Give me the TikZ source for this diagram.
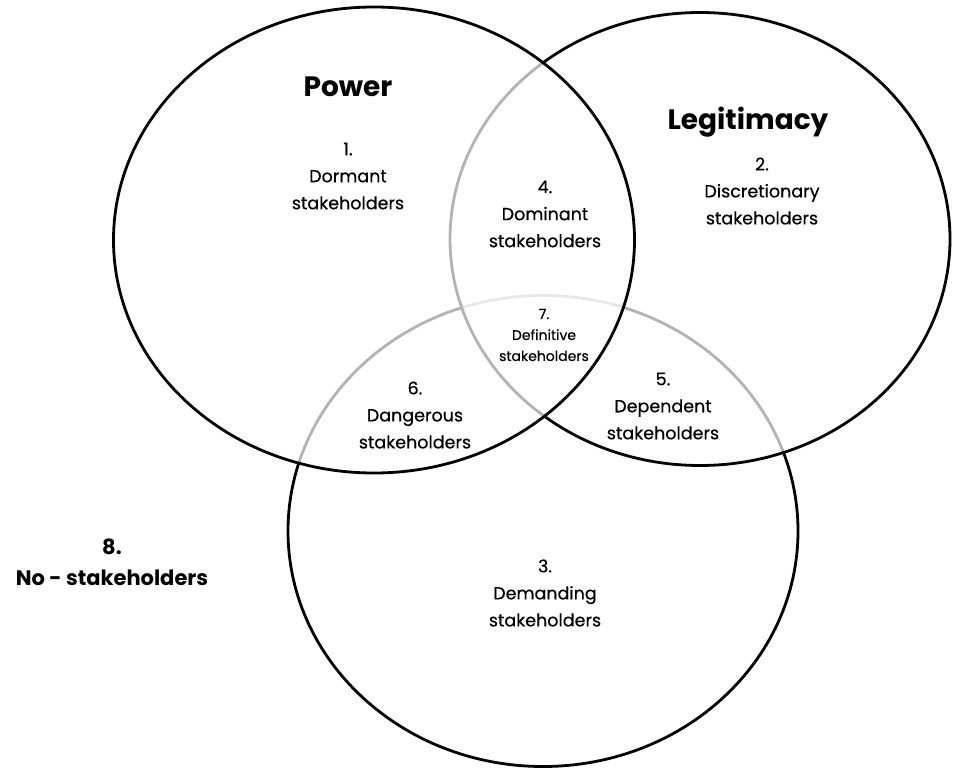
\documentclass[tikz,border=0pt]{standalone}
\usepackage{fontspec}
\setmainfont{Poppins}
\newfontfamily\medfont[FakeBold=0.4]{Poppins}
\usepackage{tikz}
\usetikzlibrary{shapes.geometric,positioning}
\tikzset{
  attrset/.style  = {ellipse, draw=black, line width=2.8pt, fill=white,
                     fill opacity=0.7, inner sep=0pt},
  attrlab/.style  = {font=\fontsize{28}{32}\selectfont\bfseries, inner sep=0pt},
  classlab/.style = {font=\fontsize{17.5}{27}\medfont, align=center, inner sep=0pt},
  deflab/.style   = {font=\fontsize{14}{21}\medfont, align=center, inner sep=0pt},
  nolab/.style    = {font=\fontsize{21}{31}\selectfont\bfseries, align=center, inner sep=0pt},
}
\begin{document}
\begin{tikzpicture}[x=1pt, y=-1pt]
\useasboundingbox (0,0) rectangle (953,770);
% the three attributes
\node[attrset, minimum width=510pt, minimum height=471pt] (urg) at (543,531) {};
\node[attrset, minimum width=500pt, minimum height=453pt] (leg) at (700,239) {};
\node[attrset, minimum width=521pt, minimum height=466pt] (pow) at (374,240) {};
\node[attrlab] (powlab) at (348,87)  {Power};
\node[attrlab] (leglab) at (748,122) {Legitimacy};
% classes
\node[classlab] (dormant)  at (348,176) {1.\\Dormant\\stakeholders};
\node[classlab] (discret)  at (762,191) {2.\\Discretionary\\stakeholders};
\node[classlab] (demand)   at (545,593) {3.\\Demanding\\stakeholders};
\node[classlab] (dominant) at (545,214) {4.\\Dominant\\stakeholders};
\node[classlab] (depend)   at (663,406) {5.\\Dependent\\stakeholders};
\node[classlab] (danger)   at (415,415) {6.\\Dangerous\\stakeholders};
\node[deflab]   (definit)  at (544,335) {7.\\Definitive\\stakeholders};
\node[nolab]    (nostake)  at (112,562) {8.\\No - stakeholders};
\end{tikzpicture}
\end{document}
